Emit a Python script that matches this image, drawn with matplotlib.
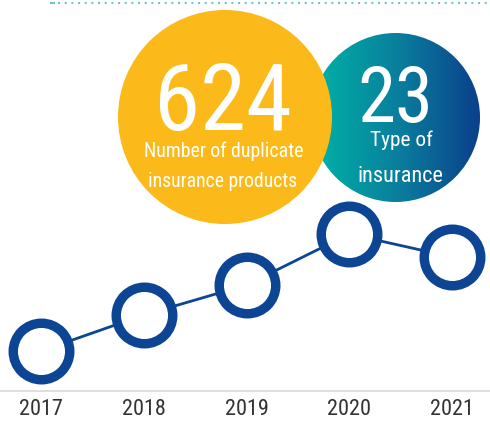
import matplotlib
matplotlib.use('Agg')
import matplotlib.pyplot as plt
import numpy as np
from matplotlib.patches import Circle
from matplotlib.colors import LinearSegmentedColormap

# ── data ─────────────────────────────────────────────────────────────────────
years  = [2017, 2018, 2019, 2020, 2021]
values = [40, 76, 106, 157, 134]          # relative level, no y scale shown
year_labels = [str(y) for y in years]

big_number    = '624'
big_caption   = ['Number of duplicate', 'insurance products']
small_number  = '23'
small_caption = ['Type of', 'insurance']

FONT   = ['Roboto Condensed', 'Archivo Narrow', 'Roboto', 'DejaVu Sans']
NAVY   = '#0c4594'
YELLOW = '#fbba19'

fig = plt.figure(figsize=(4.9, 4.25), dpi=100)
fig.patch.set_facecolor('white')
renderer = fig.canvas.get_renderer()


def fit_width(t, width_px):
    # scale the font so the text spans the width seen in the reference
    w = t.get_window_extent(renderer).width
    t.set_fontsize(t.get_fontsize() * width_px / w)
    return t


# ── decorative layer (pixel coords) ──────────────────────────────────────────
bg = fig.add_axes([0, 0, 1, 1])
bg.axis('off')
bg.set_xlim(0, 490)
bg.set_ylim(425, 0)

# gradient circle (teal -> navy), sits behind the yellow one
teal = Circle((395.5, 117.5), 84.5, transform=bg.transData, facecolor='none', edgecolor='none')
bg.add_patch(teal)
grad = np.linspace(0, 1, 256).reshape(1, -1)
gcmap = LinearSegmentedColormap.from_list('tn', ['#00aea6', '#0a7d9d', '#0b3f8b'])
im = bg.imshow(grad, extent=[320, 480, 202, 33], aspect='auto', cmap=gcmap, zorder=1)
im.set_clip_path(teal)

bg.add_patch(Circle((225, 117), 107, facecolor=YELLOW, edgecolor='none', zorder=2))

# dotted rule at the top
bg.plot([50, 55], [3, 3], color='#6ccac6', lw=1.5, solid_capstyle='butt', zorder=3)
bg.plot([58, 490], [3, 3], color='#6ccac6', lw=1.5, linestyle=(0, (1, 2.2)), zorder=3)

bg.set_xlim(0, 490)
bg.set_ylim(425, 0)

txt = dict(ha='center', va='baseline', color='white', family=FONT, zorder=4)
fit_width(bg.text(223, 130, big_number, fontsize=75, **txt), 138)
fit_width(bg.text(224, 156.7, big_caption[0], fontsize=15, **txt), 160)
fit_width(bg.text(223, 186.7, big_caption[1], fontsize=15, **txt), 150)

fit_width(bg.text(395, 122, small_number, fontsize=59, **txt), 76)
fit_width(bg.text(401, 146, small_caption[0], fontsize=18, **txt), 63)
fit_width(bg.text(400, 182, small_caption[1], fontsize=18, **txt), 86)

# ── line chart ───────────────────────────────────────────────────────────────
ax = fig.add_axes([0, 34 / 425, 1, 200 / 425])
ax.patch.set_alpha(0)

ax.plot(years, values, color=NAVY, lw=2, zorder=2, clip_on=False)
ax.plot(years, values, linestyle='none', marker='o', ms=40.7, mew=6.8,
        mfc='white', mec=NAVY, zorder=3, clip_on=False)

ax.set_xlim(2017 - 41 / 102.75, 2017 + 449 / 102.75)
ax.set_ylim(0, 200)
ax.set_xticks(years)
ax.set_xticklabels(year_labels, fontsize=17, color='#333333', family=FONT)
ax.set_yticks([])
ax.tick_params(axis='x', length=0, pad=6)
for s in ['top', 'right', 'left']:
    ax.spines[s].set_visible(False)
ax.spines['bottom'].set_color('#dcdcdc')
ax.spines['bottom'].set_linewidth(1.3)

# year labels are about 40 px wide in the reference (a bit wider here)
lab0 = ax.get_xticklabels()[0]
scale = 44 / lab0.get_window_extent(renderer).width
for lab in ax.get_xticklabels():
    lab.set_fontsize(17 * scale)

fig.savefig('out.png', dpi=100, facecolor='white')
plt.close()
